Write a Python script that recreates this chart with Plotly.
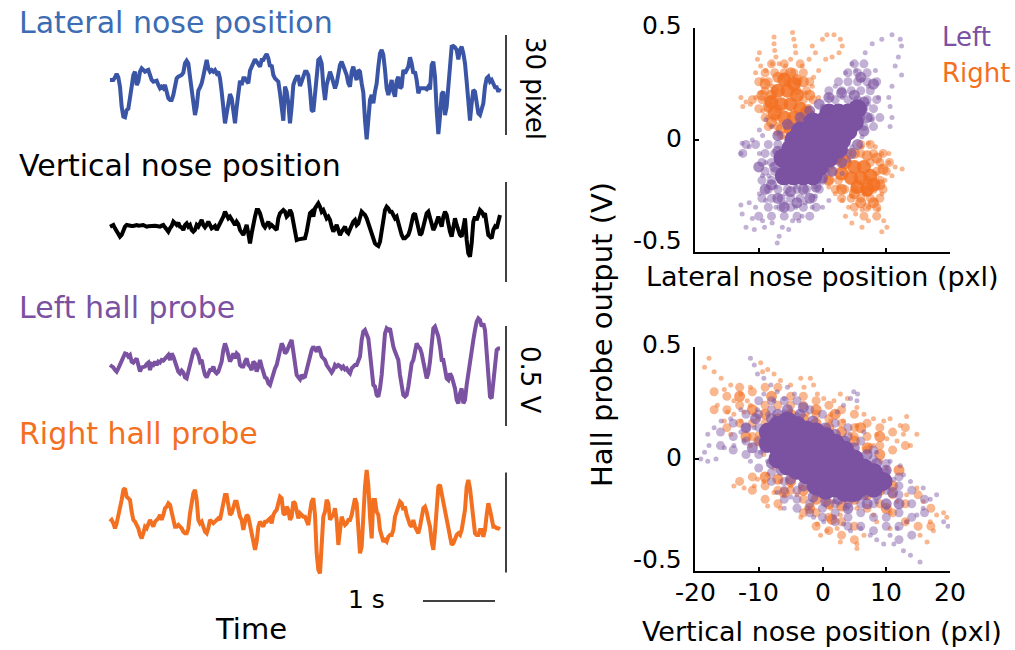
import plotly.graph_objects as go

W, H = 1015, 650
FONT = "DejaVu Sans"
BLUE_LINE = "#3A55A5"
BLUE_TEXT = "#3B6CB4"
PURPLE = "#7B51A1"
ORANGE = "#F37021"
BLACK = "#000000"

SAMPLE_RATE_HZ = 43.2  # samples per second of the displayed traces

# ---------------- time traces ----------------
lateral_nose_px = [
    0, 0, 0, 0.8, 1.8, 0.8, -2, -8, -11, -11.2,
    -9, -8.6, -6, -2, 1.5, 2.5, -1.5, -0.5, 2.5, 3.5,
    3, 2.5, 2.8, 3, 1.5, 0, -0.5, -0.2, -0.2, -1.5,
    -2.5, -2, -2.5, -1.5, -4, -5.5, -6, -6, -4.5, -2,
    0.5, 1, 1.2, 1.5, 2.2, 5, 5.8, 5, 1, -2.2,
    -6, -10.5, -8, -3.2, -2.2, -1, 1.2, 4, 6, 3.5,
    2.5, 3, 2.5, 3, 2, 2.5, 0.5, -3.5, -9, -13,
    -10, -6, -4.2, -5.5, -10, -13, -8.2, -3.2, -0.2, -1.5,
    0.5, 0.5, -0.5, -1, 2.8, 4, 5.5, 6.2, 5.5, 4.5,
    4, 6, 6, 7, 7.8, 6.5, 4, 4.5, 1.5, 0.5,
    0, -0.5, -4, -9, -12.2, -2, -3.5, -7, -13, -8,
    -1.5, 0, 1, 1, -1.8, -0.5, 1, 2.5, 2.5, 1.5,
    -3, -9, -9.5, -5, 2, 6, 6.5, 5, -1.8, -6,
    -1.5, 1, 2.5, 1, -0.5, -2.5, -1, 2, 4.5, 5.5,
    4, 3, 1.5, -1, -2, 2.5, 4, 1.5, 0, 3,
    2.5, -1, -3.8, -12, -17.8, -12, -6, -4.5, -7, -3.5,
    -1, 4, 8, 9, 7.5, 3, -2.5, -4.5, -2.5, 0,
    -3.5, -5, -0.2, 1, -2.5, -2, 3, 2, 3, 4,
    6.8, 5, 2, 2.5, 0, -4, -2.5, -2.5, -2.2, -2.5,
    -2.8, -2, -2.8, 4.5, 5.5, 1, -9, -16.2, -11, -4.2,
    -3.5, -10.5, -8, -1, 4, 10, 10.2, 9.8, 9, 6.2,
    9, 10, 8, 5, -0.5, -5, -12.2, -7, -3, -3.5,
    -7, -10, -10.5, -9, -7, -2, 0.5, 1, -0.5, 0,
    -1, -2.2, -2.2, -3.5, -2.5,
]

vertical_nose_px = [
    -0.2, 0, 0.3, -0.7, -1.7, -2.7, -3.2, -2.7, -1.2, -0.2,
    0.3, 0.1, 0, 0, 0, 0.2, 0.3, 0.1, 0, 0.2,
    0.3, 0, -0.2, -0.1, 0, 0.2, 0.3, 0.1, 0, -0.1,
    -0.2, 0.1, 0.3, -0.4, -1.2, -1.7, -0.7, 0, 1.3, 0.8,
    0.3, 1, -0.2, -0.4, -1.2, 0.3, 0.8, -0.2, 0.3, -1.2,
    -1.7, -1.2, 0.3, -0.2, 0.6, 1.8, 0.3, -0.4, 0.3, 1.3,
    0.3, -0.7, -0.4, 0, -1.2, 0, 1, 1.8, 2.8, 4.3,
    3.3, 2.3, 2.8, 1.8, 1.3, 0.3, 1.3, 0.6, -1.2, -2.2,
    -2.7, -1.2, 0.3, -2.2, -5.2, -2.2, 0.8, 2.8, 4.8, 4.8,
    3.8, 1.8, 0.3, -0.4, 0.3, 1.3, -0.2, 0.3, -0.2, -0.7,
    -1.2, 2.3, 3.8, 4.3, 4.8, 4.3, 2.8, 3.3, 4.8, 3.8,
    1.3, -2.7, -4.2, -4, -4, -4, -4, -3.7, -1.7, 1.3,
    3.8, 4.3, 2.8, 5.3, 6.3, 6.8, 5.8, 4.3, 4.8, 3.3,
    2.3, 2.8, 1.8, -0.2, -1.7, -0.7, 0.3, -1.2, -2.7, -1.7,
    -0.7, -0.2, -1.7, -2.2, -1, 0.3, 1.3, 1.8, 0.3, 0.8,
    2.8, 4.3, 3.8, 3.3, 2.3, 0.8, -1.2, -2.7, -4.2, -5.2,
    -5.7, -6, -4.7, -1.7, 1.8, 4.8, 5.8, 5.3, 4.3, 4.3,
    3.3, 2.3, 2.8, 0.8, -1.2, -2.7, -3.7, -3.7, -3.2, -2.7,
    -1.2, 1.8, 3.3, 3.8, 1.8, -1.2, -2.7, -2.2, 0.3, 2.8,
    3.8, 4.3, 2.3, 0.8, -1.2, -0.2, 1.8, 2.8, 1.3, -0.2,
    2.8, 4.3, 3.3, 0.3, -1.7, -3.2, -0.2, 2.3, 0.3, -1.2,
    -2.7, -3.2, -0.2, 2.3, -4.2, -8.2, -9.2, -5.2, 1.3, 2.8,
    1.8, 3.8, 4.8, 4.3, 3.3, 3.8, 0.3, -2.7, -3.2, -3.7,
    -1.2, -0.2, -0.7, 1.8, 3.3,
]

left_hall_v = [
    0, -0.005, -0.012, -0.025, -0.033, -0.017, 0, 0.017, 0.033, 0.058,
    0.055, 0.042, 0.05, 0.017, 0.012, 0.025, 0.033, 0, -0.033, -0.012,
    -0.008, -0.008, 0.005, 0.012, -0.025, 0.005, 0, 0.017, 0, 0.017,
    0.012, 0.025, 0.022, 0.033, 0.042, 0.05, 0.025, 0.058, 0.042, 0.017,
    -0.008, -0.033, -0.042, -0.028, -0.038, -0.062, -0.067, -0.033, 0, 0.042,
    0.067, 0.083, 0.067, 0.05, 0.017, 0.025, -0.017, -0.05, -0.062, -0.042,
    -0.025, -0.025, -0.008, -0.033, -0.042, -0.033, -0.008, 0.017, 0.075, 0.108,
    0.083, 0.042, 0.017, 0.033, 0.058, 0.033, 0.058, 0.05, 0, -0.008,
    -0.008, 0.017, 0.033, 0, -0.008, -0.025, 0.017, 0.008, -0.033, -0.008,
    0.025, -0.008, -0.042, -0.062, -0.067, -0.092, -0.1, -0.067, -0.033, -0.017,
    0, 0.033, 0.067, 0.108, 0.092, 0.058, 0.067, 0.092, 0.108, 0.125,
    0.075, 0.008, -0.05, -0.062, -0.072, -0.05, -0.062, -0.058, -0.025, 0.025,
    0.05, 0.075, 0.092, 0.083, 0.067, 0.092, 0.075, 0.042, 0.033, 0.025,
    0, -0.017, -0.025, -0.038, -0.025, 0, -0.008, 0, -0.005, -0.017,
    -0.008, -0.022, -0.017, -0.033, -0.042, -0.017, -0.008, 0, 0, 0.017,
    0.042, 0.125, 0.167, 0.175, 0.158, 0.133, 0.058, -0.025, -0.1, -0.108,
    -0.15, -0.158, -0.117, -0.05, 0.042, 0.158, 0.183, 0.175, 0.183, 0.133,
    0.092, 0.067, 0.042, 0.025, -0.05, -0.108, -0.15, -0.158, -0.15, -0.108,
    -0.042, 0.008, 0.025, 0.058, 0.108, 0.092, 0.083, 0.058, 0, -0.025,
    -0.067, -0.042, 0.017, 0.125, 0.183, 0.192, 0.167, 0.142, 0.092, 0.025,
    0.025, -0.025, -0.067, -0.075, -0.042, -0.058, -0.083, -0.117, -0.175, -0.192,
    -0.142, -0.117, -0.192, -0.175, -0.1, -0.042, 0.042, 0.092, 0.125, 0.175,
    0.217, 0.233, 0.225, 0.192, 0.208, 0.175, 0.042, -0.092, -0.158, -0.167,
    -0.1, 0.008, 0.075, 0.083, 0.083,
]

right_hall_v = [
    0.008, 0.017, 0, -0.025, 0, 0.033, 0.083, 0.117, 0.167, 0.175,
    0.133, 0.125, 0.117, 0.058, 0.017, 0.008, -0.008, -0.025, -0.058, -0.075,
    -0.05, -0.017, -0.025, 0, 0.017, 0, -0.017, 0.008, 0.017, 0.025,
    0.042, 0.017, 0.042, 0.075, 0.083, 0.1, 0.092, 0.05, 0.017, -0.017,
    -0.017, -0.008, -0.017, -0.025, -0.042, -0.05, -0.05, -0.025, 0.05, 0.1,
    0.15, 0.167, 0.117, 0.017, 0, 0.008, -0.017, -0.042, -0.05, -0.025,
    0.017, 0.008, 0, 0.008, 0.017, 0.025, 0.017, 0.058, 0.108, 0.142,
    0.142, 0.083, 0.042, 0.05, 0.083, 0.108, 0.108, 0.058, 0.033, 0.017,
    -0.033, 0.008, 0.042, 0.033, -0.008, -0.058, -0.108, -0.133, -0.092, -0.017,
    0.008, -0.008, -0.017, 0.008, 0.008, 0.017, 0.025, 0, 0.042, 0.058,
    0.067, 0.1, 0.133, 0.125, 0.05, 0.042, 0.083, 0.067, 0.017, 0.033,
    0.108, 0.1, 0.05, 0.025, 0.05, 0.042, 0.033, 0.033, 0.017, -0.008,
    0.058, 0.108, 0.125, 0.042, -0.15, -0.233, -0.25, -0.083, 0.033, 0.058,
    0.117, 0.1, 0.017, 0.033, 0.042, 0.075, 0.017, -0.108, -0.05, 0.033,
    0.008, -0.008, 0, 0.017, 0.017, 0.042, 0.083, 0.125, 0.1, -0.033,
    -0.15, -0.117, 0.05, 0.183, 0.267, 0.192, 0.033, -0.075, 0.117, 0.117,
    0.058, 0.042, -0.033, -0.067, -0.092, -0.083, -0.092, -0.067, -0.058, -0.058,
    -0.033, 0.033, 0.067, 0.083, 0.108, 0.1, 0.067, 0.083, 0.042, 0.017,
    -0.008, -0.017, 0.017, -0.017, -0.033, -0.05, -0.017, 0.042, 0.075, 0.083,
    0.058, 0.017, -0.017, -0.092, -0.133, -0.042, 0.092, 0.183, 0.192, 0.15,
    0.108, 0.058, 0.017, -0.017, -0.075, -0.108, -0.1, -0.075, -0.058, -0.05,
    -0.058, -0.033, 0.008, 0.067, 0.183, 0.217, 0.175, 0.092, 0.017, -0.05,
    -0.058, -0.058, -0.033, -0.033, -0.067, -0.033, 0.042, 0.1, 0.067, 0.033,
    -0.017, -0.017, -0.025, -0.025, -0.03,
]

# ---------------- scatter clouds (x: nose position pxl, y: hall output V) ----------------
# top panel: lateral nose position vs hall output
top_left_core = [
    (1, 0.12), (2.5, 0.12), (4, 0.12), (5.5, 0.14),
    (-1.5, 0.08), (0, 0.08), (1.5, 0.08), (3, 0.08), (4, 0.08), (5, 0.08),
    (-3.5, 0.04), (-2, 0.04), (-0.5, 0.04), (1, 0.04), (2.5, 0.04), (4, 0.04),
    (-4.5, 0), (-3, 0), (-1.5, 0), (0, 0), (1.5, 0), (3, 0),
    (-5, -0.04), (-3.5, -0.04), (-2, -0.04), (-0.5, -0.04), (1, -0.04), (2.5, -0.04),
    (-6.2, -0.08), (-5, -0.08), (-3.5, -0.08), (-2, -0.08), (-0.5, -0.08), (1, -0.08),
    (-5, -0.12), (-3.5, -0.12), (-2, -0.12), (-0.5, -0.12),
    (-6, -0.16), (-4.5, -0.16), (-3, -0.16), (-1.5, -0.16),
]
top_left_mid = [
    (-8, -0.2), (-7.5, -0.12), (-7, -0.05), (-7, 0.02), (-5.5, 0.07), (-3.5, 0.1),
    (-2, 0.13), (-0.5, 0.16), (1, 0.19), (3, 0.21), (5, 0.2), (6.5, 0.17), (7, 0.1),
    (6.5, 0.04), (5.5, -0.02), (4.5, -0.06), (3, -0.1), (1.5, -0.14), (0, -0.17),
    (-1, -0.21), (-3, -0.22), (-5, -0.23), (-7, -0.26), (-9, -0.22), (-10, -0.12),
    (8, 0.25), (6, 0.28), (-2, -0.26), (-6, -0.3), (-4, -0.28), (5.5, 0.13), (-6.5, -0.17),
]
# rows of the medium-density band: (hall output, [nose positions])
top_left_band_rows = [
    (-0.02, [-8.5, -7, -12, -10.5]), (-0.06, [-9, -7.5, -6.5, -12.5]),
    (-0.1, [-9.5, -8, -6.5]), (-0.14, [-9, -7.5, -6, -1, 0.5]),
    (-0.18, [-9.5, -8, -6.5, -5, -3.5, -1.5, 0]), (-0.22, [-8.5, -7, -5.5, -4, -2.5, -0.5]),
    (-0.26, [-9.5, -8, -6.5, -5, -3.5, -1.5]), (-0.3, [-8.5, -6.5, -5, -3, -1]),
    (-0.34, [-10, -8, -6, -4, -2]),
    (0.06, [5, 6.5, 8]), (0.1, [4.5, 6, 7.5, 9]), (0.14, [5, 6.5, 8]),
    (0.18, [2, 4, 5.5, 7, 8.5]), (0.22, [1, 3, 4.5, 6, 7.5]),
    (0.26, [2.5, 4, 5.5, 7, 8.5]), (0.3, [4, 5.5, 7]), (0.34, [5, 6.5]),
]
top_left_sparse = [
    (5.2, 0.31), (6.7, 0.39), (7.8, 0.43), (9.3, 0.45), (10.9, 0.47), (12.2, 0.45),
    (12.4, 0.42), (11.9, 0.37), (11.4, 0.33), (12.4, 0.29), (10.9, 0.24), (10.4, 0.19),
    (10.6, 0.15), (10.9, 0.1), (10.6, 0.06), (3.6, 0.3), (4.6, 0.34), (6.2, 0.27),
    (7.2, 0.24), (8.3, 0.31), (8.8, 0.19), (7.2, 0.16), (6.2, 0.12), (7.8, 0.09),
    (5.2, 0.06), (6.2, 0.015), (4.6, -0.03), (2, 0.24), (3.1, 0.19), (1, 0.19),
    (0, 0.15), (-1.6, 0.12), (-2.7, 0.09), (-4.2, -0.21), (-5.8, -0.24), (-7.3, -0.21),
    (-8.4, -0.16), (-8.9, -0.1), (-9.9, -0.06), (-11.5, -0.03), (-12.8, -0.06),
    (-12.6, -0.015), (-11, 0), (-9.4, 0.02), (-7.9, 0.06), (-6.8, 0.03), (-9.4, -0.16),
    (-9.9, -0.24), (-8.9, -0.27), (-7.3, -0.3), (-5.8, -0.28), (-4.2, -0.3), (-2.7, -0.28),
    (-1.1, -0.25), (-1.6, -0.3), (-3.2, -0.34), (-4.7, -0.36), (-6.3, -0.39), (-6.8, -0.43),
    (-7.1, -0.46), (-7.9, -0.37), (-9.4, -0.36), (-11, -0.35), (-12.6, -0.33), (-12.8, -0.29),
    (-11.5, -0.28), (-10.5, -0.3), (-12, -0.39), (-10.7, -0.4), (-9.1, -0.39), (-5.3, -0.4),
    (-3.7, -0.36), (0, -0.3), (1, -0.27), (-1.1, -0.21), (-2.7, -0.18), (3.1, -0.15),
    (4.1, -0.09), (-9.9, 0.045), (-8.9, 0.09),
]
top_right_core = [
    (-7, 0.22), (-5.5, 0.22), (-4, 0.2), (-6.5, 0.16), (-5, 0.16), (-3.5, 0.14),
    (-6, 0.1), (-4.5, 0.1), (-3, 0.08), (-5, 0.05), (-3.5, 0.04), (-7.5, 0.12),
    (-6, 0.27), (-2.5, 0.12), (-4.5, 0.25), (-8, 0.17),
    (2, -0.08), (3.5, -0.1), (5, -0.12), (6.5, -0.12), (3, -0.15), (4.5, -0.17),
    (6, -0.17), (7.5, -0.16), (5.5, -0.21), (8, -0.2), (2.5, -0.04), (7, -0.22),
]
top_right_mid = [
    (-9, 0.25), (-8, 0.2), (-8.5, 0.15), (-7, 0.28), (-5, 0.3), (-3, 0.26), (-2, 0.2),
    (-8, 0.08), (-6.5, 0.05), (-2.5, 0.03), (-4, 0.27), (-9.5, 0.2),
    (1, -0.18), (3, -0.22), (5, -0.24), (7, -0.23), (9, -0.2), (9.5, -0.13), (8.5, -0.08),
    (7, -0.07), (5, -0.06), (3, -0.06), (6, -0.28), (8, -0.28), (1, -0.1),
]
top_right_band_rows = [
    (0.02, [-6.5, -5]), (0.06, [-8.5, -7, -5.5]), (0.1, [-9, -7.5, -2]),
    (0.14, [-10, -8.5, -7, -2.5]), (0.18, [-11, -9.5, -8, -3, -1.5]),
    (0.22, [-9, -7.5, -4, -2.5]), (0.26, [-10, -8.5, -5.5, -4, -2]),
    (0.3, [-9, -7.5, -6, -4.5, -3]), (0.34, [-8, -6, -3.5]),
    (-0.02, [6, 7.5]), (-0.06, [4, 6, 8, 9.5]), (-0.1, [1, 7.5, 9, 10.5]),
    (-0.14, [1.5, 8.5, 10]), (-0.18, [1, 2.5, 7, 9]),
    (-0.22, [2, 3.5, 5, 6.5, 8, 9.5]), (-0.26, [3, 4.5, 6, 7.5, 9]),
    (-0.3, [5, 7, 8.5]), (-0.34, [6.5, 8.5]),
]
top_right_sparse = [
    (-7.6, 0.46), (-7.6, 0.43), (-7.5, 0.4), (-7.3, 0.37), (-7.9, 0.34), (-4.7, 0.48),
    (-4.5, 0.45), (-4.3, 0.42), (-4.2, 0.39), (-5, 0.36), (-5.8, 0.33), (-9.9, 0.39),
    (-10.2, 0.36), (-9.7, 0.33), (-10.5, 0.3), (-9.4, 0.27), (-8.9, 0.31), (-6.8, 0.34),
    (-3.2, 0.33), (-2.1, 0.36), (-1.1, 0.39), (-1.6, 0.42), (0, 0.45), (0.7, 0.47),
    (1.8, 0.47), (2.8, 0.45), (3.1, 0.42), (2.6, 0.39), (1.5, 0.37), (0.5, 0.36),
    (-0.6, 0.31), (-1.4, 0.28), (-1.6, 0.24), (-0.6, 0.19), (-12.8, 0.19), (-12, 0.17),
    (-11.3, 0.16), (-12.5, 0.15), (-10.5, 0.19), (-9.7, 0.21), (-8.9, 0.18), (-9.4, 0.13),
    (-8.6, 0.1), (-8.1, 0.06), (-7.3, 0.03), (-6.3, 0.015), (-5.3, 0), (-7.9, 0.24),
    (-6.3, 0.28), (-5.3, 0.25), (-3.7, 0.25), (-2.7, 0.21), (-2.1, 0.15), (-1.6, 0.09),
    (-1.1, 0.045), (9.3, -0.12), (10.4, -0.1), (11.4, -0.12), (12.5, -0.13), (10.9, -0.16),
    (9.8, -0.18), (10.4, -0.06), (9.3, -0.06), (8.3, -0.03), (7.2, -0.015), (6.2, -0.03),
    (9.3, -0.24), (8.3, -0.27), (8.8, -0.31), (9.6, -0.36), (10.1, -0.39), (9.3, -0.41),
    (7.2, -0.36), (6.2, -0.31), (5.2, -0.33), (4.1, -0.3), (3.1, -0.27), (2, -0.24),
    (1, -0.21), (0.5, -0.16), (2.6, -0.21), (4.6, -0.25), (6.7, -0.24), (7.8, -0.19),
    (8.5, -0.15), (3.6, -0.34), (4.6, -0.37), (6.2, -0.39), (7.2, -0.3), (1.5, -0.12),
    (0, -0.09),
]

# bottom panel: vertical nose position vs hall output
bottom_left_core = [
    (-8.5, 0.12), (-8.5, 0.07),
    (-7, 0.15), (-7, 0.1), (-7, 0.05), (-7, 0.0),
    (-5.5, 0.17), (-5.5, 0.13), (-5.5, 0.09), (-5.5, 0.05), (-5.5, 0.01), (-5.5, -0.03),
    (-4, 0.15), (-4, 0.11), (-4, 0.07), (-4, 0.03), (-4, -0.01), (-4, -0.05),
    (-2.5, 0.13), (-2.5, 0.09), (-2.5, 0.05), (-2.5, 0.01), (-2.5, -0.03), (-2.5, -0.07),
    (-1, 0.12), (-1, 0.08), (-1, 0.04), (-1, 0), (-1, -0.04), (-1, -0.08), (-1, -0.12),
    (0.5, 0.1), (0.5, 0.06), (0.5, 0.02), (0.5, -0.02), (0.5, -0.06), (0.5, -0.1), (0.5, -0.14),
    (2, 0.07), (2, 0.03), (2, -0.01), (2, -0.05), (2, -0.09), (2, -0.13),
    (3.5, 0.04), (3.5, 0), (3.5, -0.04), (3.5, -0.08), (3.5, -0.12), (3.5, -0.15),
    (5, 0), (5, -0.04), (5, -0.08), (5, -0.12), (5, -0.15),
    (6.5, -0.04), (6.5, -0.08), (6.5, -0.12),
    (8, -0.06), (8, -0.1), (8, -0.13), (9.5, -0.1),
]
bottom_left_mid = [
    (-9, 0.12), (-9, 0.05), (-8, 0.18), (-7, 0.2), (-5.5, 0.22), (-3.5, 0.2), (-8, -0.02),
    (-6.5, -0.05), (-5, -0.09), (-3, -0.12), (-1.5, -0.17), (0.5, -0.19), (2.5, -0.18),
    (4.5, -0.17), (6.5, -0.16), (8.5, -0.16), (10, -0.1), (10, -0.05), (8.5, -0.02), (7, 0.02),
    (5, 0.05), (3.5, 0.08), (2, 0.11), (0.5, 0.14), (-1.5, 0.17), (-11, 0.05), (-12, 0.14),
    (11, -0.15), (12, -0.2), (4, -0.22), (-3, 0.23), (-10.5, 0.18), (10, -0.2), (7, -0.2),
]
# columns of the medium-density band: (nose position, [hall outputs])
bottom_left_band_cols = [
    (-16, [0.12, 0.06]), (-14, [0.16, 0.1, 0.04]), (-12, [0.2, 0.14, 0.08, 0.02]),
    (-10, [0.26, 0.2, 0.14, 0.08, 0.02, -0.04]), (-8, [0.26, 0.22, -0.06, -0.1]),
    (-6, [0.26, -0.1, -0.14, -0.18]), (-4, [0.26, -0.14, -0.18, -0.22]),
    (-2, [0.22, -0.2, -0.24]), (0, [0.2, -0.22, -0.26]), (2, [0.16, -0.2, -0.24, -0.28]),
    (4, [0.14, 0.1, -0.2, -0.26, -0.3]), (6, [0.08, -0.2, -0.24, -0.3]),
    (8, [0.04, 0.0, -0.2, -0.26, -0.32]), (10, [-0.02, -0.06, -0.14, -0.26, -0.3]),
    (12, [-0.08, -0.12, -0.16, -0.24, -0.3, -0.36]), (14, [-0.14, -0.2, -0.26, -0.34]),
    (16, [-0.18, -0.24]),
]
bottom_left_sparse = [
    (-11.3, 0.45), (-10.7, 0.42), (-10.2, 0.38), (-9.2, 0.36), (-8.1, 0.33), (-7.1, 0.3),
    (-9.2, 0.29), (-7.6, 0.26), (-6, 0.27), (-5.5, 0.32), (-4.4, 0.29), (-12.8, 0.22),
    (-14.4, 0.18), (-15.9, 0.17), (-17, 0.14), (-18, 0.11), (-17.8, 0.06), (-18.5, 0.03),
    (-19.1, 0), (-18, -0.01), (-16.7, 0), (-15.4, 0.05), (-13.9, 0.06), (-12.3, 0.08),
    (-12.8, 0.12), (-10.7, 0.14), (-9.7, 0.03), (-8.6, -0.01), (-11.3, -0.01), (-7.1, -0.15),
    (-5, -0.17), (-6, -0.22), (-2.4, -0.22), (-1.4, -0.26), (0.2, -0.28), (1.8, -0.26),
    (3.3, -0.29), (4.4, -0.32), (6, -0.31), (7.5, -0.34), (8.5, -0.36), (9.6, -0.38),
    (11.2, -0.38), (12.7, -0.41), (13.8, -0.43), (15.3, -0.46), (10.6, -0.34), (11.7, -0.31),
    (13.2, -0.28), (14.8, -0.25), (15.8, -0.22), (16.9, -0.18), (17.9, -0.16), (15.8, -0.13),
    (13.8, -0.1), (12.7, -0.07), (11.2, -0.09), (10.1, -0.12), (19, -0.28), (19.7, -0.3),
    (5.4, 0.26), (4.9, 0.3), (5.5, 0.29), (4.4, 0.27), (3.3, 0.24), (2.3, 0.21), (6.5, 0.12),
    (8.5, 0.03), (10.6, -0.01), (12.2, -0.03), (6.5, -0.16), (8.5, -0.19), (10.1, -0.22),
    (3.9, -0.22), (1.8, -0.19), (-0.8, -0.16), (-1.9, 0.15), (-4, 0.2), (-6, 0.21),
    (-8.6, 0.2), (-10.2, 0.22),
]
bottom_right_mid = [
    (-11, 0.22), (-9, 0.2), (-7, 0.18), (-5, 0.2), (-3, 0.18), (-1, 0.16), (1, 0.14),
    (3, 0.12), (5, 0.08), (7, 0.05), (9, 0.02), (-9, -0.08), (-7, -0.09), (-5, -0.1),
    (-3, -0.14), (-1, -0.18), (1, -0.2), (3, -0.21), (5, -0.18), (7, -0.16), (9, -0.14),
    (11, -0.12), (-12, 0.1), (-10, 0.08), (12, -0.05), (-13, 0.28), (-8, 0.28), (-1, 0.22),
    (2, 0.2), (6, 0.14), (9, 0.1), (-6, -0.15), (-2, -0.22), (1.5, -0.27), (10, -0.22),
]
bottom_right_band_cols = [
    (-17, [0.3, 0.22]), (-15, [0.28, 0.22, 0.14]), (-13, [0.32, 0.24, 0.16, -0.1]),
    (-11, [0.3, 0.16, 0.1, -0.08, -0.14]), (-9, [0.32, 0.24, 0.16, -0.12, -0.18]),
    (-7, [0.32, 0.24, -0.14, -0.2]), (-5, [0.28, 0.24, -0.14]),
    (-3, [0.28, 0.24, -0.18, -0.24]), (-1, [0.26, 0.2, -0.24, -0.3]),
    (1, [0.24, 0.18, -0.26, -0.32]), (3, [0.22, 0.16, -0.28, -0.34]),
    (5, [0.2, 0.14, 0.1, -0.3, -0.36]), (7, [0.16, 0.1, 0.04, -0.22]),
    (9, [0.14, 0.06, -0.1, -0.2]), (11, [0.12, 0.04, -0.16, -0.24]),
    (13, [0.14, 0.06, -0.2, -0.28]), (15, [-0.16, -0.3]), (17, [-0.22, -0.3]),
]
bottom_right_sparse = [
    (-18.5, 0.41), (-17.8, 0.45), (-17, 0.39), (-15.9, 0.36), (-15.4, 0.31), (-14.4, 0.33),
    (-12.8, 0.29), (-11.8, 0.26), (-11.3, 0.32), (-12.3, 0.21), (-10.7, 0.2), (-9.7, 0.43),
    (-9.4, 0.39), (-8.6, 0.4), (-7.6, 0.38), (-6.6, 0.35), (-5, 0.33), (-3.4, 0.36),
    (-2.9, 0.32), (-1.9, 0.36), (-1.4, 0.33), (-0.8, 0.29), (0.2, 0.27), (1.8, 0.26),
    (2.8, 0.29), (3.9, 0.27), (5.4, 0.23), (6.5, 0.2), (8, 0.18), (9.6, 0.17), (10.6, 0.18),
    (12.2, 0.15), (13.2, 0.19), (12.7, 0.11), (14.8, 0.11), (13.8, 0.06), (11.7, 0.08),
    (10.1, 0.09), (8.5, 0.11), (7.5, 0.06), (5.4, 0.15), (3.3, 0.17), (1.3, 0.2),
    (-13.9, -0.12), (-12.3, -0.13), (-10.7, -0.12), (-9.2, -0.1), (-7.6, -0.15), (-6, -0.16),
    (-8.6, -0.21), (-6.6, -0.22), (-5, -0.12), (-4, -0.16), (-14.4, 0.11), (-12.8, 0.17),
    (-14.9, 0.21), (-16.5, 0.24), (-10.2, 0.11), (-8.6, 0.14), (-11.3, 0.06), (-9.2, 0.02),
    (-7.6, -0.04), (-0.8, -0.29), (0.7, -0.32), (2.3, -0.31), (5.4, -0.38), (6.5, -0.34),
    (8.5, -0.28), (10.6, -0.24), (11.7, -0.19), (13.2, -0.16), (14.8, -0.13), (15.8, -0.19),
    (16.9, -0.28), (17.9, -0.25), (19, -0.24), (19.5, -0.26), (17.4, -0.32), (16.4, -0.37),
    (15.3, -0.34), (13.2, -0.28), (10.6, -0.31), (8, -0.25), (5.4, -0.22), (3.9, -0.19),
    (2.8, -0.25), (1.3, -0.22), (-1.9, -0.22), (-3.4, -0.26), (-0.3, -0.34), (2.8, -0.37),
    (5.4, -0.4), (-5, 0.21), (-2.4, 0.2), (1.3, 0.17), (4.4, 0.11), (8, 0.06), (9.1, -0.01),
    (10.1, -0.04), (-6, -0.04), (-5, -0.07), (-3.4, -0.12), (-6.6, -0.1), (-8.6, -0.07),
    (-10.2, -0.09), (0.2, -0.19), (2.8, -0.16), (6.5, -0.13), (-7.6, 0.17), (-10.2, 0.18),
    (-11.3, 0.24), (-13.9, 0.26), (-13.9, 0.2), (-15.4, 0.17),
]

Y_TICKS = [-0.5, 0, 0.5]
Y_TICK_TEXT = ["-0.5", "0", "0.5"]
X_TICKS = [-20, -10, 0, 10, 20]
X_TICK_TEXT = ["-20", "-10", "0", "10", "20"]


def px2x(px):
    return px / W


def px2y(py):
    return 1 - py / H


def rows_to_points(rows):
    return [(x, y) for y, xs in rows for x in xs]


def cols_to_points(cols):
    return [(x, y) for x, ys in cols for y in ys]


fig = go.Figure()

# ---------- time-trace panels ----------
T0_PX, PX_PER_S = 110, 72
fig.update_layout(xaxis=dict(domain=[px2x(100), px2x(512)],
                             range=[(100 - T0_PX) / PX_PER_S, (512 - T0_PX) / PX_PER_S],
                             visible=False, fixedrange=True))

panels = [
    # axis, values, colour, top px, bottom px, zero px, px per unit, bar centre px, bar length
    ("y", lateral_nose_px, BLUE_LINE, 10, 160, 80, 10 / 3, 85, 30),
    ("y2", vertical_nose_px, BLACK, 165, 300, 226, 10 / 3, 232, 30),
    ("y3", left_hall_v, PURPLE, 295, 450, 365, 200, 376, 0.5),
    ("y4", right_hall_v, ORANGE, 455, 600, 523.3, 200, 522.5, 0.5),
]
bar_t = (506 - T0_PX) / PX_PER_S
for yid, vals, color, top, bot, base, ppu, barc, barlen in panels:
    t = [k / SAMPLE_RATE_HZ for k in range(len(vals))]
    fig.add_trace(go.Scatter(x=t, y=vals, xaxis="x", yaxis=yid, mode="lines",
                             line=dict(color=color, width=4), hoverinfo="skip"))
    axname = "yaxis" if yid == "y" else "yaxis" + yid[1:]
    fig.layout[axname] = dict(domain=[px2y(bot), px2y(top)],
                              range=[(base - bot) / ppu, (base - top) / ppu],
                              anchor="x", visible=False, fixedrange=True)
    c = (base - barc) / ppu
    fig.add_shape(type="line", xref="x", yref=yid, x0=bar_t, x1=bar_t,
                  y0=c - barlen / 2, y1=c + barlen / 2,
                  line=dict(color=BLACK, width=1.5))

# 1 s time bar
t_bar0 = (423 - T0_PX) / PX_PER_S
fig.add_shape(type="line", xref="x", yref="paper", x0=t_bar0, x1=t_bar0 + 1,
              y0=px2y(601), y1=px2y(601), line=dict(color=BLACK, width=1.5))

# ---------- scatter panels ----------
axis_common = dict(showline=True, linecolor=BLACK, linewidth=1.5, ticks="inside",
                   ticklen=4, tickwidth=1.5, tickcolor=BLACK, showgrid=False,
                   zeroline=False, showticklabels=False, fixedrange=True)
fig.update_layout(
    xaxis2=dict(domain=[px2x(695), px2x(950)], range=[-20, 20], anchor="y5",
                tickvals=X_TICKS, **axis_common),
    yaxis5=dict(domain=[px2y(252), px2y(28)], range=[-0.5, 0.5], anchor="x2",
                tickvals=Y_TICKS, **axis_common),
    xaxis3=dict(domain=[px2x(695), px2x(950)], range=[-20, 20], anchor="y6",
                tickvals=X_TICKS, **axis_common),
    yaxis6=dict(domain=[px2y(571), px2y(347)], range=[-0.5, 0.5], anchor="x3",
                tickvals=Y_TICKS, **axis_common),
)


def add_cloud(points, xa, ya, color, size, opacity):
    fig.add_trace(go.Scatter(x=[p[0] for p in points], y=[p[1] for p in points],
                             xaxis=xa, yaxis=ya, mode="markers", hoverinfo="skip",
                             marker=dict(color=color, size=size, opacity=opacity,
                                         line=dict(width=0))))


add_cloud(top_right_sparse, "x2", "y5", ORANGE, 5, 0.5)
add_cloud(rows_to_points(top_right_band_rows), "x2", "y5", ORANGE, 9, 0.5)
add_cloud(top_right_mid, "x2", "y5", ORANGE, 11, 0.65)
add_cloud(top_right_core, "x2", "y5", ORANGE, 14, 0.85)
add_cloud(top_left_sparse, "x2", "y5", PURPLE, 5, 0.45)
add_cloud(rows_to_points(top_left_band_rows), "x2", "y5", PURPLE, 9, 0.45)
add_cloud(top_left_mid, "x2", "y5", PURPLE, 11, 0.65)
add_cloud(top_left_core, "x2", "y5", PURPLE, 19, 1.0)

add_cloud(bottom_right_sparse, "x3", "y6", ORANGE, 5, 0.5)
add_cloud(cols_to_points(bottom_right_band_cols), "x3", "y6", ORANGE, 9, 0.5)
add_cloud(bottom_right_mid, "x3", "y6", ORANGE, 11, 0.65)
add_cloud(bottom_left_sparse, "x3", "y6", PURPLE, 5, 0.45)
add_cloud(cols_to_points(bottom_left_band_cols), "x3", "y6", PURPLE, 9, 0.45)
add_cloud(bottom_left_mid, "x3", "y6", PURPLE, 11, 0.65)
add_cloud(bottom_left_core, "x3", "y6", PURPLE, 19, 1.0)

# ---------- text ----------
ann = []


def text(t, x_px, y_px, size, color=BLACK, xanchor="center", angle=0):
    ann.append(dict(text=t, x=px2x(x_px), y=px2y(y_px), xref="paper", yref="paper",
                    xanchor=xanchor, yanchor="middle", showarrow=False, textangle=angle,
                    font=dict(family=FONT, size=size, color=color)))


text("Lateral nose position", 17, 23, 30, BLUE_TEXT, "left")
text("Vertical nose position", 17, 165, 30, BLACK, "left")
text("Left hall probe", 17, 307, 30, PURPLE, "left")
text("Right hall probe", 17, 433, 30, ORANGE, "left")
text("30 pixel", 535, 88, 26, BLACK, angle=90)
text("0.5 V", 530, 380, 26, BLACK, angle=90)
text("1 s", 366, 599, 25)
text("Time", 251, 629, 29)
text("Hall probe output (V)", 602, 335, 29, angle=-90)
text("Lateral nose position (pxl)", 822, 276, 27)
text("Vertical nose position (pxl)", 822, 631, 27)
text("Left", 940, 37, 26, PURPLE, "left")
text("Right", 940, 73, 26, ORANGE, "left")

# y tick labels of the scatter panels
for ya in ("y5", "y6"):
    for v, lab, shift in zip(Y_TICKS, Y_TICK_TEXT, [12, 2, 3]):
        ann.append(dict(text=lab, x=px2x(684), xref="paper", y=v, yref=ya, yshift=shift,
                        xanchor="right", yanchor="middle", showarrow=False,
                        font=dict(family=FONT, size=25, color=BLACK)))
# x tick labels of the bottom panel
for v, lab in zip(X_TICKS, X_TICK_TEXT):
    ann.append(dict(text=lab, x=v, xref="x3", y=px2y(592), yref="paper",
                    xanchor="center", yanchor="middle", showarrow=False,
                    font=dict(family=FONT, size=25, color=BLACK)))

fig.update_layout(annotations=ann, width=W, height=H, autosize=False,
                  margin=dict(l=0, r=0, t=0, b=0), showlegend=False,
                  paper_bgcolor="white", plot_bgcolor="rgba(0,0,0,0)",
                  font=dict(family=FONT, color=BLACK))

fig.write_html("out.html", config={"displayModeBar": False},
               post_script="document.body.style.margin='0px';"
                           "document.body.style.overflow='hidden';")
